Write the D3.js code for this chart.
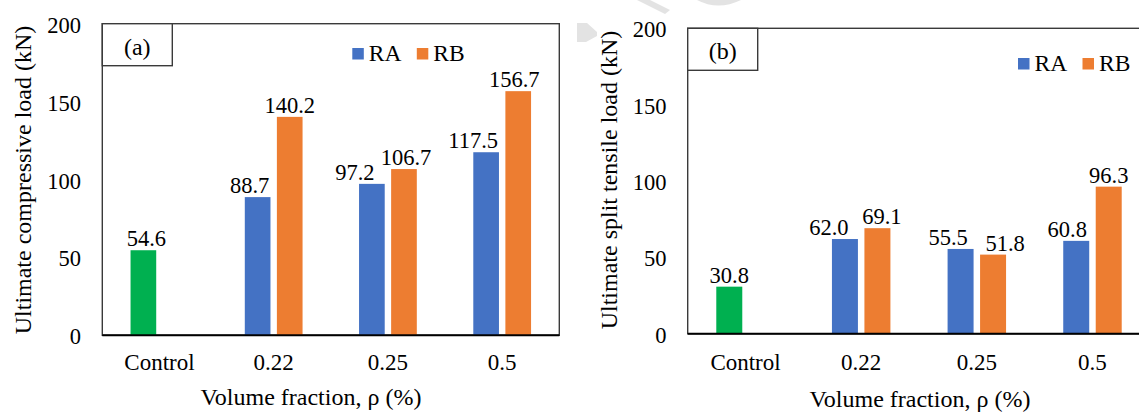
<!DOCTYPE html>
<html>
<head>
<meta charset="utf-8">
<script src="https://cdn.jsdelivr.net/npm/d3@7"></script>
<style>
  html, body { margin: 0; padding: 0; background: #fff; }
  svg { display: block; }
</style>
</head>
<body>
<svg id="chart" width="1139" height="412"></svg>
<script>
// ---------------- data ----------------
const categories = ["Control", "0.22", "0.25", "0.5"];
const seriesNames = ["RA", "RB"];
const yTicks = [0, 50, 100, 150, 200];

// (a) ultimate compressive load (kN); Control sits in the RA slot
const compRA = [54.6, 88.7, 97.2, 117.5];
const compRB = [null, 140.2, 106.7, 156.7];
const compLabelA = ["54.6", "88.7", "97.2", "117.5"];
const compLabelB = ["", "140.2", "106.7", "156.7"];

// (b) ultimate split tensile load (kN)
const splitRA = [30.8, 62.0, 55.5, 60.8];
const splitRB = [null, 69.1, 51.8, 96.3];
const splitLabelA = ["30.8", "62.0", "55.5", "60.8"];
const splitLabelB = ["", "69.1", "51.8", "96.3"];

// manual label nudges (px) as placed in the original figure
const compNudgeA = [3, -8, -17, -13];
const compNudgeB = [0, 0, 2, -4];
const splitNudgeA = [0, -16, -12.5, -9];
const splitNudgeB = [0, 4.5, 12, 0];

const colors = { RA: "#4472C4", RB: "#ED7D31", control: "#00B050" };
const FONT = "'Liberation Serif', 'Times New Roman', serif";

const svg = d3.select("#chart");

// faint watermark fragments from the source page
svg.append("path")
  .attr("d", "M577,23 L587,23 L597,32 L597,36 L586,42 L577,42 Z")
  .attr("fill", "#e3e3e3");
svg.append("path")
  .attr("d", "M637,0 L650,0 L670,10 L665,14 Z")
  .attr("fill", "#e3e3e3");
svg.append("path")
  .attr("d", "M697,0 Q718,11 741,0 Z")
  .attr("fill", "#e3e3e3");

function txt(sel, size) {
  return sel.style("font-family", FONT).style("font-size", size + "px").style("fill", "#000");
}

function drawChart(cfg) {
  const g = svg.append("g");
  const { left, right, top, bottom } = cfg.frame;

  const x0 = d3.scaleBand().domain(categories).range([left, right]).padding(0);
  const x1 = d3.scaleBand().domain(seriesNames).range([0, x0.bandwidth()])
    .paddingInner(0.2).paddingOuter(0.88);
  const y = d3.scaleLinear().domain([0, 200]).range([bottom, top]);

  // plot frame
  g.append("rect")
    .attr("x", left).attr("y", top)
    .attr("width", right - left).attr("height", bottom - top)
    .attr("fill", "none").attr("stroke", "#3a3a3a").attr("stroke-width", 1.4);

  // bars
  const rows = categories.map((c, i) => ({
    cat: c, i,
    vals: [
      { s: "RA", v: cfg.ra[i], lab: cfg.labA[i], dx: cfg.nudgeA[i], color: i === 0 ? colors.control : colors.RA },
      { s: "RB", v: cfg.rb[i], lab: cfg.labB[i], dx: cfg.nudgeB[i], color: colors.RB }
    ].filter(d => d.v != null)
  }));

  const grp = g.selectAll("g.cat").data(rows).join("g")
    .attr("class", "cat")
    .attr("transform", d => `translate(${x0(d.cat)},0)`);

  grp.selectAll("rect").data(d => d.vals).join("rect")
    .attr("x", d => x1(d.s))
    .attr("width", x1.bandwidth())
    .attr("y", d => y(d.v))
    .attr("height", d => y(0) - y(d.v))
    .attr("fill", d => d.color);

  txt(grp.selectAll("text.lab").data(d => d.vals).join("text")
    .attr("class", "lab")
    .attr("x", d => x1(d.s) + x1.bandwidth() / 2 + d.dx)
    .attr("y", d => y(d.v) - 4)
    .attr("text-anchor", "middle"), 22.5)
    .text(d => d.lab);

  // baseline
  g.append("line")
    .attr("x1", left).attr("x2", right)
    .attr("y1", y(0)).attr("y2", y(0))
    .attr("stroke", "#000").attr("stroke-width", 2);

  // y axis
  const yAxis = g.append("g")
    .attr("transform", `translate(${left},0)`)
    .call(d3.axisLeft(y).tickValues(yTicks).tickSize(0).tickPadding(21.3).tickFormat(d3.format("d")));
  yAxis.select(".domain").remove();
  txt(yAxis.selectAll("text"), 22.5).attr("dy", "0.38em");

  // x axis
  const xAxis = g.append("g")
    .attr("transform", `translate(0,${bottom})`)
    .call(d3.axisBottom(x0).tickSize(0));
  xAxis.select(".domain").remove();
  txt(xAxis.selectAll("text"), 23)
    .attr("y", cfg.xTickBase - bottom)
    .attr("dy", 0);

  // axis titles
  txt(g.append("text")
    .attr("x", cfg.xTitle[0]).attr("y", cfg.xTitle[1])
    .attr("text-anchor", "middle"), 24)
    .text("Volume fraction, \u03c1 (%)");

  txt(g.append("text")
    .attr("transform", `translate(${cfg.yTitle[0]},${cfg.yTitle[1]}) rotate(-90)`)
    .attr("text-anchor", "middle"), 24)
    .text(cfg.yLabel);

  // panel label box
  g.append("rect")
    .attr("x", left).attr("y", top)
    .attr("width", 70).attr("height", 42)
    .attr("fill", "#fff").attr("stroke", "#3a3a3a").attr("stroke-width", 1.4);
  txt(g.append("text")
    .attr("x", left + 35).attr("y", top + 31)
    .attr("text-anchor", "middle"), 24)
    .text(cfg.panel);

  // legend
  const lg = g.append("g").attr("transform", `translate(${cfg.legend[0]},${cfg.legend[1]})`);
  const items = lg.selectAll("g").data(seriesNames).join("g")
    .attr("transform", (d, i) => `translate(${i * 64.5},0)`);
  items.append("rect")
    .attr("x", 0).attr("y", -12.5)
    .attr("width", 11.5).attr("height", 11.5)
    .attr("fill", d => colors[d]);
  txt(items.append("text")
    .attr("x", 16.5).attr("y", 0), 23.5)
    .text(d => d);
}

drawChart({
  frame: { left: 102.3, right: 559.3, top: 23.7, bottom: 335.3 },
  ra: compRA, rb: compRB, labA: compLabelA, labB: compLabelB,
  nudgeA: compNudgeA, nudgeB: compNudgeB,
  xTickBase: 370.5,
  xTitle: [311, 405],
  yTitle: [31, 180],
  yLabel: "Ultimate compressive load (kN)",
  panel: "(a)",
  legend: [352.3, 60.5]
});

drawChart({
  frame: { left: 687.7, right: 1150.3, top: 28.3, bottom: 333.7 },
  ra: splitRA, rb: splitRB, labA: splitLabelA, labB: splitLabelB,
  nudgeA: splitNudgeA, nudgeB: splitNudgeB,
  xTickBase: 370,
  xTitle: [920, 406.5],
  yTitle: [617, 180],
  yLabel: "Ultimate split tensile load (kN)",
  panel: "(b)",
  legend: [1018, 70.5]
});
</script>
</body>
</html>
